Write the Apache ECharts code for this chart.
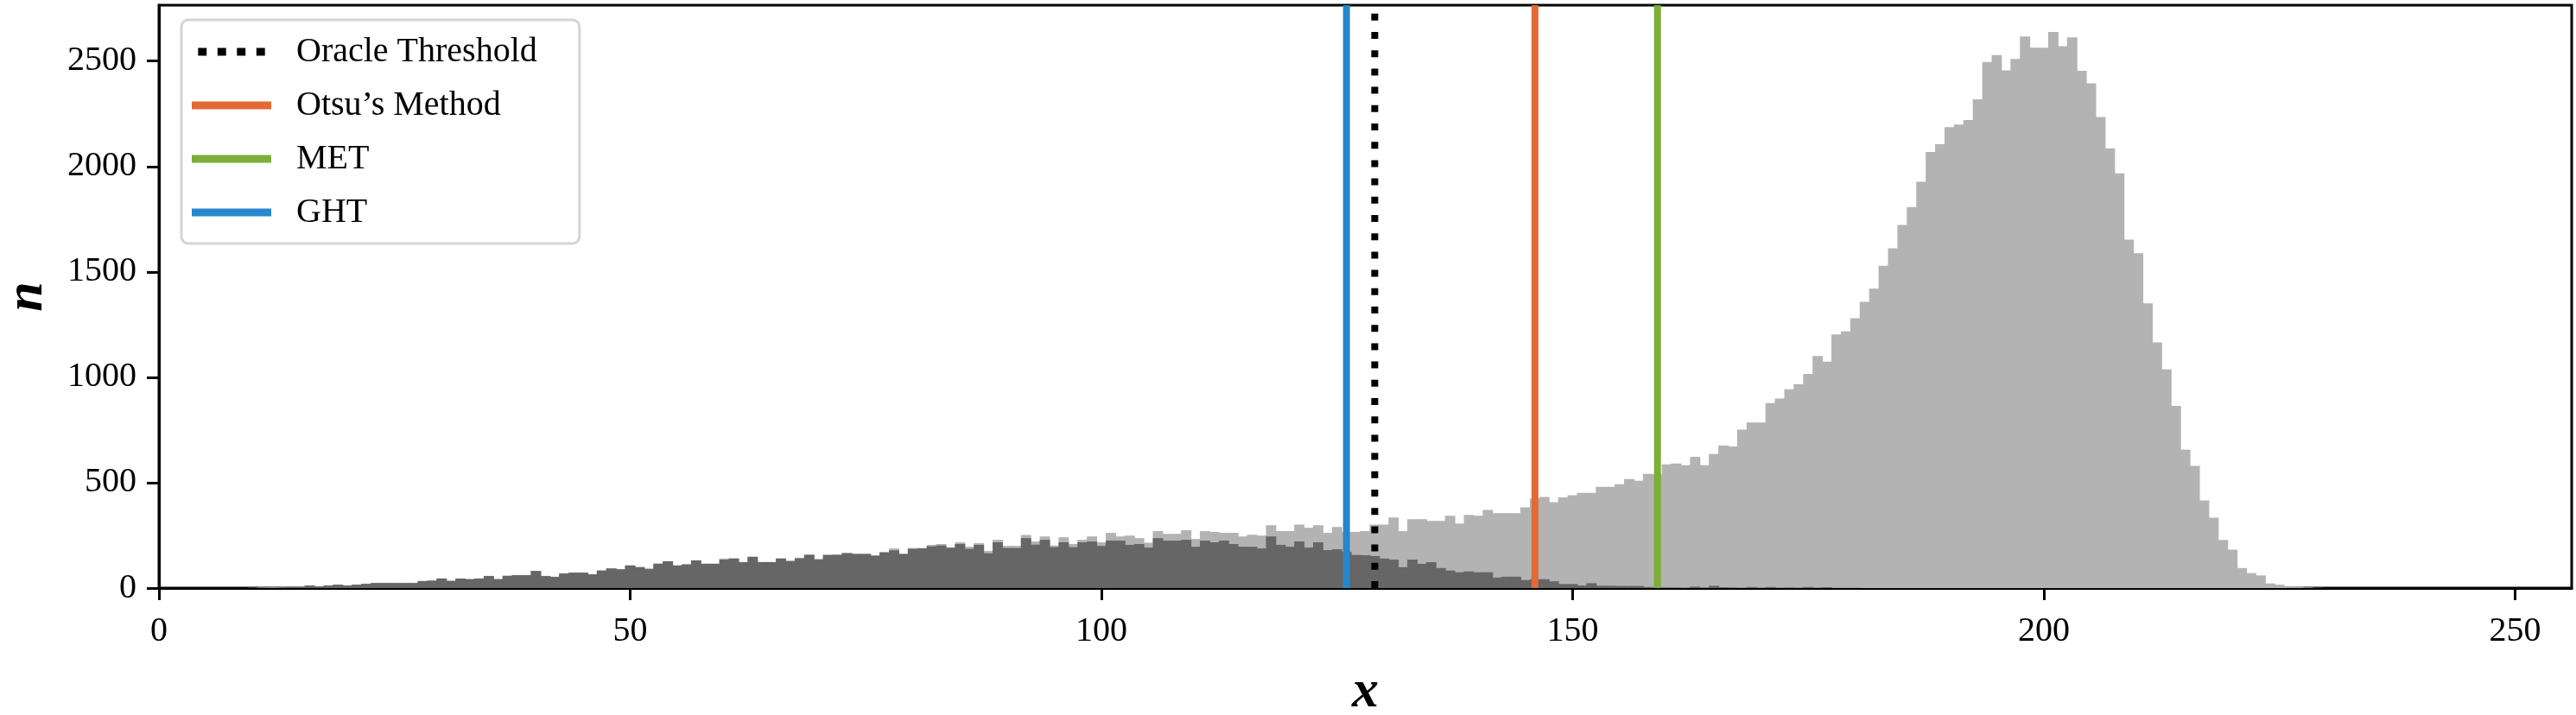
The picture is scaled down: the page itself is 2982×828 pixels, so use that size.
<!DOCTYPE html>
<html>
<head>
<meta charset="utf-8">
<script src="https://cdn.jsdelivr.net/npm/echarts@6/dist/echarts.min.js"></script>
<style>
  html, body { margin: 0; padding: 0; background: #fff; }
  #chart { width: 2982px; height: 828px; }
</style>
</head>
<body>
<div id="chart"></div>
<script>
// histogram counts per grey level 0..255 (light = all pixels, dark = foreground class)
const totalCounts = [
  0, 0, 0, 0, 0, 0, 0, 0, 0, 0,
  1, 3, 4, 4, 8, 8, 13, 9, 13, 17,
  13, 17, 21, 25, 25, 25, 25, 25, 34, 36,
  46, 35, 46, 43, 46, 58, 43, 59, 62, 62,
  82, 58, 54, 70, 74, 74, 66, 84, 94, 90,
  108, 100, 92, 117, 128, 108, 115, 132, 116, 116,
  140, 141, 124, 149, 124, 124, 141, 131, 144, 160,
  139, 158, 160, 168, 164, 164, 156, 171, 188, 164,
  190, 190, 205, 209, 194, 217, 196, 213, 176, 229,
  200, 200, 252, 221, 245, 202, 241, 209, 229, 245,
  217, 262, 245, 249, 237, 215, 270, 257, 257, 274,
  233, 270, 266, 262, 262, 245, 253, 249, 298, 270,
  270, 301, 286, 298, 262, 290, 266, 266, 270, 301,
  301, 335, 270, 327, 327, 318, 318, 343, 306, 347,
  343, 371, 355, 355, 355, 383, 424, 432, 408, 430,
  440, 452, 452, 480, 480, 493, 517, 509, 542, 540,
  587, 591, 583, 623, 583, 636, 676, 672, 752, 785,
  785, 878, 899, 943, 967, 1016, 1101, 1074, 1203, 1218,
  1280, 1358, 1420, 1529, 1612, 1723, 1807, 1927, 2069, 2106,
  2186, 2199, 2220, 2319, 2496, 2528, 2456, 2510, 2616, 2563,
  2563, 2638, 2570, 2612, 2454, 2394, 2235, 2086, 1967, 1653,
  1588, 1351, 1165, 1037, 864, 656, 580, 416, 334, 228,
  182, 95, 71, 60, 22, 16, 7, 6, 3, 1,
  0, 0, 0, 0, 0, 0, 0, 0, 0, 0,
  0, 0, 0, 0, 0, 0, 0, 0, 0, 0,
  0, 0, 0, 0, 0, 0
];
const foregroundCounts = [
  0, 0, 0, 0, 0, 0, 0, 0, 0, 0,
  0, 1, 2, 3, 7, 7, 12, 8, 12, 16,
  12, 16, 20, 24, 24, 24, 24, 24, 33, 35,
  45, 34, 45, 42, 45, 57, 42, 58, 61, 61,
  81, 57, 53, 69, 73, 73, 65, 83, 93, 89,
  107, 99, 91, 115, 127, 107, 111, 131, 115, 115,
  135, 140, 123, 148, 123, 123, 140, 127, 141, 157,
  135, 157, 157, 165, 161, 161, 153, 169, 179, 161,
  186, 188, 198, 202, 191, 209, 186, 205, 165, 217,
  190, 190, 237, 206, 229, 194, 217, 194, 217, 221,
  200, 225, 225, 205, 209, 192, 237, 225, 225, 229,
  196, 225, 217, 225, 209, 196, 196, 188, 245, 205,
  196, 221, 192, 217, 180, 184, 172, 157, 156, 152,
  140, 135, 99, 135, 115, 123, 95, 83, 75, 79,
  75, 75, 50, 54, 54, 38, 42, 42, 32, 19,
  19, 12, 23, 11, 11, 10, 10, 10, 5, 4,
  3, 3, 2, 7, 3, 11, 4, 3, 2, 5,
  2, 5, 2, 3, 2, 5, 2, 4, 1, 1,
  1, 0, 0, 0, 0, 0, 0, 0, 0, 0,
  0, 0, 0, 0, 0, 0, 0, 0, 0, 0,
  0, 0, 0, 0, 0, 0, 0, 0, 0, 0,
  0, 0, 0, 0, 0, 0, 0, 0, 0, 0,
  0, 0, 0, 0, 0, 0, 0, 0, 0, 0,
  0, 0, 0, 0, 0, 0, 0, 0, 0, 0,
  0, 0, 0, 0, 0, 0, 0, 0, 0, 0,
  0, 0, 0, 0, 0, 0
];
const thresholdNames = ['Oracle Threshold', 'Otsu’s Method', 'MET', 'GHT'];
const thresholdValues = [129, 146, 159, 126];
const thresholdColors = ['#000000', '#E16A36', '#7BAF36', '#2687CC'];
const xTicks = [0, 50, 100, 150, 200, 250];
const yTicks = [0, 500, 1000, 1500, 2000, 2500];
const X_MAX = 256;
const Y_MAX = 2765;

const FONT = 'Liberation Serif';
const grid = { left: 184, right: 5, top: 6, bottom: 147 };
// legend handles: dotted one drawn as four squares, the others as a flat bar
const DOTS_ICON = 'path://M0,0h11v10h-11z M25,0h11v10h-11z M50,0h11v10h-11z M75,0h11v10h-11z';

const chart = echarts.init(document.getElementById('chart'));
// a touch wider than one bin so neighbouring bars leave no hairline gaps
const barW = (chart.getWidth() - grid.left - grid.right) / X_MAX + 1;

const axisCommon = {
  axisLine: { show: true, onZero: false, lineStyle: { color: '#000', width: 3 } },
  axisTick: { show: true, length: 14, lineStyle: { color: '#000', width: 3 } },
  splitLine: { show: false },
  nameLocation: 'middle',
  nameTextStyle: { fontFamily: FONT, fontSize: 62, fontWeight: 'bold', fontStyle: 'italic', color: '#000' }
};

const lineSeries = thresholdNames.map((name, i) => ({
  name: name,
  type: 'line',
  symbol: 'none',
  z: 5,
  data: [[thresholdValues[i], 0], [thresholdValues[i], Y_MAX]],
  lineStyle: i === 0
    ? { color: thresholdColors[i], width: 8, type: [8, 13.2], cap: 'butt' }
    : { color: thresholdColors[i], width: 8 },
  itemStyle: { color: thresholdColors[i] }
}));

const option = {
  animation: false,
  backgroundColor: '#fff',
  grid: Object.assign({
    show: true, borderColor: '#000', borderWidth: 3,
    containLabel: false, outerBoundsMode: 'none'
  }, grid),
  legend: {
    data: thresholdNames.map((name, i) => ({ name: name, icon: i === 0 ? DOTS_ICON : 'rect' })),
    orient: 'vertical',
    left: 210,
    top: 23,
    padding: [15, 49, 14, 12],
    itemGap: 18,
    itemWidth: 92,
    itemHeight: 9,
    backgroundColor: '#fff',
    borderColor: '#d5d5d5',
    borderWidth: 3,
    borderRadius: 8,
    itemStyle: { borderWidth: 0 },
    lineStyle: { width: 0 },
    textStyle: { fontFamily: FONT, fontSize: 40, lineHeight: 44, color: '#000', padding: [0, 0, 0, 24] }
  },
  xAxis: Object.assign({}, axisCommon, {
    type: 'value',
    min: 0,
    max: X_MAX,
    name: 'x',
    nameGap: 90,
    axisTick: Object.assign({}, axisCommon.axisTick, { customValues: xTicks }),
    axisLabel: { customValues: xTicks, fontFamily: FONT, fontSize: 40, color: '#000', margin: 30 }
  }),
  yAxis: Object.assign({}, axisCommon, {
    type: 'value',
    min: 0,
    max: Y_MAX,
    name: 'n',
    nameGap: 121,
    nameRotate: 90,
    axisTick: Object.assign({}, axisCommon.axisTick, { customValues: yTicks }),
    axisLabel: {
      customValues: yTicks, fontFamily: FONT, fontSize: 40, color: '#000', margin: 26,
      formatter: v => String(v)
    }
  }),
  series: [
    {
      name: 'all',
      type: 'bar',
      barWidth: barW,
      barGap: '-100%',
      itemStyle: { color: '#b3b3b3' },
      data: totalCounts.map((v, i) => [i, v])
    },
    {
      name: 'foreground',
      type: 'bar',
      barWidth: barW,
      barGap: '-100%',
      itemStyle: { color: '#666666' },
      data: foregroundCounts.map((v, i) => [i, v])
    }
  ].concat(lineSeries)
};

chart.setOption(option);
</script>
</body>
</html>
